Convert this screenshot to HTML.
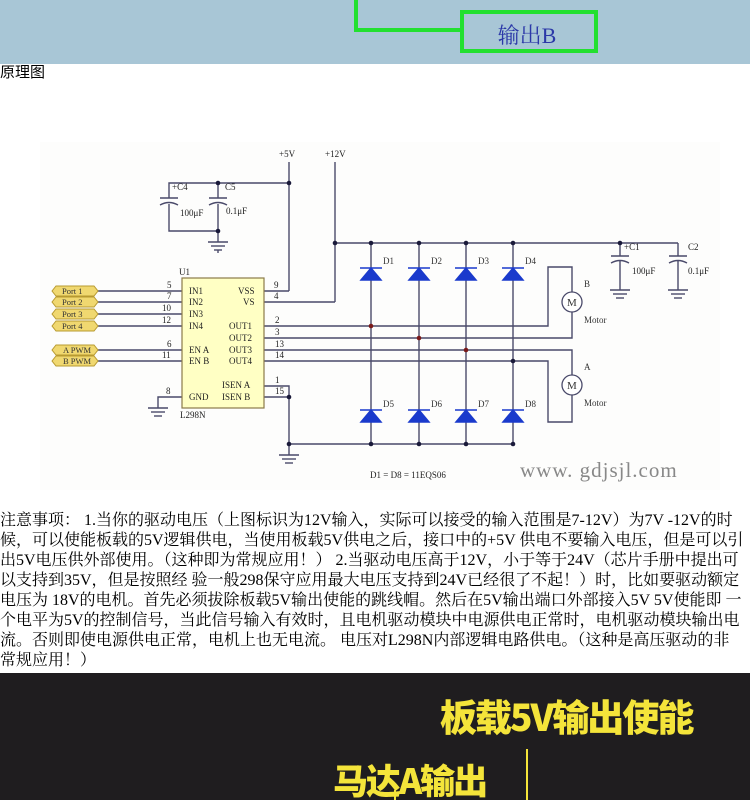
<!DOCTYPE html>
<html><head><meta charset="utf-8"><style>
*{margin:0;padding:0;box-sizing:border-box}
body{width:750px;height:800px;overflow:hidden;background:#fff;position:relative;font-family:"Liberation Serif","Noto Serif CJK SC",serif}
.abs{position:absolute}
#top{left:0;top:0;width:750px;height:64px;background:#a8c6d6}
#t1{left:0;top:64px;font-size:15px;line-height:18px;font-family:"Liberation Sans","Noto Sans CJK SC",sans-serif}
#para{left:0;top:511px;width:750px;font-size:16px;line-height:20px;color:#000}
#para div{white-space:nowrap}
#bot{left:0;top:673px;width:750px;height:127px;background:#1f1d1f}
.y{color:#f4e43a;font-family:"Noto Sans CJK SC",sans-serif;font-weight:900;white-space:nowrap;position:absolute;letter-spacing:-2px}
</style></head><body>
<div id="top" class="abs">
<svg width="750" height="64">
<polyline points="356,0 356,30 462,30" fill="none" stroke="#22e030" stroke-width="4"/>
<rect x="462" y="12" width="134" height="39" fill="none" stroke="#22e030" stroke-width="4"/>
<text x="527" y="43" text-anchor="middle" font-size="22" fill="#2b38a8" font-family="Liberation Serif,Noto Serif CJK SC,serif">输出B</text>
</svg></div>
<div id="t1" class="abs">原理图</div>

<svg class="abs" style="left:0;top:140px" width="750" height="360" viewBox="0 140 750 360" font-family="Liberation Serif,serif">
<rect x="40" y="142" width="680" height="348" fill="#fdfdfc"/>
<g stroke="#4a4a6a" stroke-width="1.4" fill="none">
<line x1="289" y1="162" x2="289" y2="291"/>
<line x1="264" y1="291" x2="289" y2="291"/>
<line x1="335" y1="162" x2="335" y2="302"/>
<line x1="264" y1="302" x2="335" y2="302"/>
<polyline points="289,183 169,183 169,198"/>
<polyline points="169,204 169,231 218,231"/>
<line x1="218" y1="183" x2="218" y2="198"/>
<line x1="218" y1="204" x2="218" y2="242"/>
<line x1="160" y1="198" x2="178" y2="198"/><path d="M160,205 Q169,200 178,205"/>
<line x1="209" y1="198" x2="227" y2="198"/><path d="M209,205 Q218,200 227,205"/>
<line x1="208" y1="242" x2="228" y2="242"/><line x1="211" y1="246" x2="225" y2="246"/><line x1="214" y1="250" x2="222" y2="250"/><line x1="218" y1="250" x2="218" y2="253"/>
<line x1="335" y1="243" x2="678" y2="243"/>
<line x1="620" y1="243" x2="620" y2="256"/><line x1="611" y1="256" x2="629" y2="256"/><path d="M611,263 Q620,258 629,263"/><line x1="620" y1="261" x2="620" y2="290"/>
<line x1="610" y1="290" x2="630" y2="290"/><line x1="613" y1="294" x2="627" y2="294"/><line x1="616" y1="298" x2="624" y2="298"/>
<line x1="678" y1="243" x2="678" y2="256"/><line x1="669" y1="256" x2="687" y2="256"/><path d="M669,263 Q678,258 687,263"/><line x1="678" y1="261" x2="678" y2="290"/>
<line x1="668" y1="290" x2="688" y2="290"/><line x1="671" y1="294" x2="685" y2="294"/><line x1="674" y1="298" x2="682" y2="298"/>
<line x1="371" y1="243" x2="371" y2="444"/>
<line x1="419" y1="243" x2="419" y2="444"/>
<line x1="466" y1="243" x2="466" y2="444"/>
<line x1="513" y1="243" x2="513" y2="444"/>
<line x1="289" y1="444" x2="513" y2="444"/>
<polyline points="264,386 289,386 289,455"/>
<line x1="264" y1="397" x2="289" y2="397"/>
<line x1="279" y1="455" x2="299" y2="455"/><line x1="282" y1="459" x2="296" y2="459"/><line x1="285" y1="463" x2="293" y2="463"/>
<polyline points="182,397 158,397 158,408"/>
<line x1="148" y1="408" x2="168" y2="408"/><line x1="151" y1="412" x2="165" y2="412"/><line x1="154" y1="416" x2="162" y2="416"/>
<polyline points="264,326 548,326 548,267 572,267 572,292"/>
<polyline points="264,338 572,338 572,312"/>
<polyline points="264,350 572,350 572,375"/>
<polyline points="264,361 548,361 548,422 572,422 572,395"/>
<line x1="98" y1="291" x2="182" y2="291"/><line x1="98" y1="302" x2="182" y2="302"/>
<line x1="98" y1="314" x2="182" y2="314"/><line x1="98" y1="326" x2="182" y2="326"/>
<line x1="98" y1="350" x2="182" y2="350"/><line x1="98" y1="361" x2="182" y2="361"/>
</g>
<g fill="#fff" stroke="#4a4a6a" stroke-width="1.3"><circle cx="572" cy="302" r="10"/><circle cx="572" cy="385" r="10"/></g>
<g font-size="11" fill="#333"><text x="567" y="306">M</text><text x="567" y="389">M</text>
<text x="584" y="287" font-size="9">B</text><text x="584" y="323" font-size="9">Motor</text>
<text x="584" y="370" font-size="9">A</text><text x="584" y="406" font-size="9">Motor</text></g>
<g fill="#1a3acc" stroke="#1a3acc" stroke-width="1.5">
<path d="M361,280 L371,268 L381,280Z"/><line x1="360" y1="268" x2="382" y2="268"/>
<path d="M409,280 L419,268 L429,280Z"/><line x1="408" y1="268" x2="430" y2="268"/>
<path d="M456,280 L466,268 L476,280Z"/><line x1="455" y1="268" x2="477" y2="268"/>
<path d="M503,280 L513,268 L523,280Z"/><line x1="502" y1="268" x2="524" y2="268"/>
<path d="M361,422 L371,410 L381,422Z"/><line x1="360" y1="410" x2="382" y2="410"/>
<path d="M409,422 L419,410 L429,422Z"/><line x1="408" y1="410" x2="430" y2="410"/>
<path d="M456,422 L466,410 L476,422Z"/><line x1="455" y1="410" x2="477" y2="410"/>
<path d="M503,422 L513,410 L523,422Z"/><line x1="502" y1="410" x2="524" y2="410"/>
</g>
<g font-size="9" fill="#333"><text x="383" y="264">D1</text><text x="431" y="264">D2</text><text x="478" y="264">D3</text><text x="525" y="264">D4</text>
<text x="383" y="407">D5</text><text x="431" y="407">D6</text><text x="478" y="407">D7</text><text x="525" y="407">D8</text></g>
<g fill="#1a1a3a"><circle cx="289" cy="183" r="2.3"/><circle cx="218" cy="183" r="2.3"/><circle cx="218" cy="231" r="2.3"/>
<circle cx="335" cy="243" r="2.3"/><circle cx="371" cy="243" r="2.3"/><circle cx="419" cy="243" r="2.3"/><circle cx="466" cy="243" r="2.3"/><circle cx="513" cy="243" r="2.3"/><circle cx="620" cy="243" r="2.3"/>
<circle cx="289" cy="397" r="2.3"/><circle cx="289" cy="444" r="2.3"/><circle cx="371" cy="444" r="2.3"/><circle cx="419" cy="444" r="2.3"/><circle cx="466" cy="444" r="2.3"/><circle cx="513" cy="444" r="2.3"/><circle cx="513" cy="361" r="2.3"/></g>
<g fill="#7a1a1a"><circle cx="371" cy="326" r="2.3"/><circle cx="419" cy="338" r="2.3"/><circle cx="466" cy="350" r="2.3"/></g>
<rect x="182" y="278" width="82" height="130" fill="#ffffc4" stroke="#8a7a4a" stroke-width="1.2"/>
<g font-size="9" fill="#222">
<text x="179" y="275">U1</text><text x="180" y="418">L298N</text>
<text x="189" y="294">IN1</text><text x="189" y="305">IN2</text><text x="189" y="317">IN3</text><text x="189" y="329">IN4</text>
<text x="189" y="353">EN A</text><text x="189" y="364">EN B</text><text x="189" y="400">GND</text>
<text x="238" y="294">VSS</text><text x="243" y="305">VS</text>
<text x="229" y="329">OUT1</text><text x="229" y="341">OUT2</text><text x="229" y="353">OUT3</text><text x="229" y="364">OUT4</text>
<text x="222" y="388">ISEN A</text><text x="222" y="400">ISEN B</text>
<text x="167" y="288">5</text><text x="167" y="299">7</text><text x="162" y="311">10</text><text x="162" y="323">12</text>
<text x="167" y="347">6</text><text x="162" y="358">11</text><text x="166" y="394">8</text>
<text x="274" y="288">9</text><text x="274" y="299">4</text><text x="275" y="323">2</text><text x="275" y="335">3</text>
<text x="275" y="347">13</text><text x="275" y="358">14</text><text x="275" y="383">1</text><text x="275" y="394">15</text>
<text x="279" y="157">+5V</text><text x="325" y="157">+12V</text>
<text x="172" y="190">+C4</text><text x="225" y="190">C5</text><text x="180" y="216">100μF</text><text x="226" y="214">0.1μF</text>
<text x="624" y="250">+C1</text><text x="688" y="250">C2</text><text x="632" y="274">100μF</text><text x="688" y="274">0.1μF</text>
<text x="370" y="478">D1 = D8 = 11EQS06</text>
</g>
<g fill="#f0d870" stroke="#b89a30" stroke-width="1">
<path d="M52,291 L56,286 L94,286 L98,291 L94,296 L56,296Z"/>
<path d="M52,302 L56,297 L94,297 L98,302 L94,307 L56,307Z"/>
<path d="M52,314 L56,309 L94,309 L98,314 L94,319 L56,319Z"/>
<path d="M52,326 L56,321 L94,321 L98,326 L94,331 L56,331Z"/>
<path d="M52,350 L56,345 L94,345 L98,350 L94,355 L56,355Z"/>
<path d="M52,361 L56,356 L94,356 L98,361 L94,366 L56,366Z"/>
</g>
<g font-size="8.5" fill="#333"><text x="62" y="294">Port 1</text><text x="62" y="305">Port 2</text><text x="62" y="317">Port 3</text><text x="62" y="329">Port 4</text>
<text x="63" y="353">A PWM</text><text x="63" y="364">B PWM</text></g>
<text x="520" y="477" font-size="21" fill="#888" letter-spacing="1">www. gdjsjl.com</text>
</svg>

<div id="para" class="abs">
<div>注意事项： 1.当你的驱动电压（上图标识为12V输入，实际可以接受的输入范围是7-12V）为7V -12V的时</div>
<div>候，可以使能板载的5V逻辑供电，当使用板载5V供电之后，接口中的+5V 供电不要输入电压，但是可以引</div>
<div>出5V电压供外部使用。（这种即为常规应用！） 2.当驱动电压高于12V，小于等于24V（芯片手册中提出可</div>
<div>以支持到35V，但是按照经 验一般298保守应用最大电压支持到24V已经很了不起！）时，比如要驱动额定</div>
<div>电压为 18V的电机。首先必须拔除板载5V输出使能的跳线帽。然后在5V输出端口外部接入5V 5V使能即 一</div>
<div>个电平为5V的控制信号，当此信号输入有效时，且电机驱动模块中电源供电正常时，电机驱动模块输出电</div>
<div>流。否则即使电源供电正常，电机上也无电流。 电压对L298N内部逻辑电路供电。（这种是高压驱动的非</div>
<div>常规应用！）</div>
</div>

<div id="bot" class="abs">
<div class="y" style="left:440px;top:20px;font-size:37px;line-height:44px">板载5V输出使能</div>
<div class="y" style="left:333px;top:86px;font-size:35px;line-height:42px">马达A输出</div>
<div class="abs" style="left:526px;top:76px;width:2px;height:51px;background:#f4e43a"></div>
<div class="abs" style="left:394px;top:117px;width:2px;height:10px;background:#f4e43a"></div>
</div>
</body></html>
